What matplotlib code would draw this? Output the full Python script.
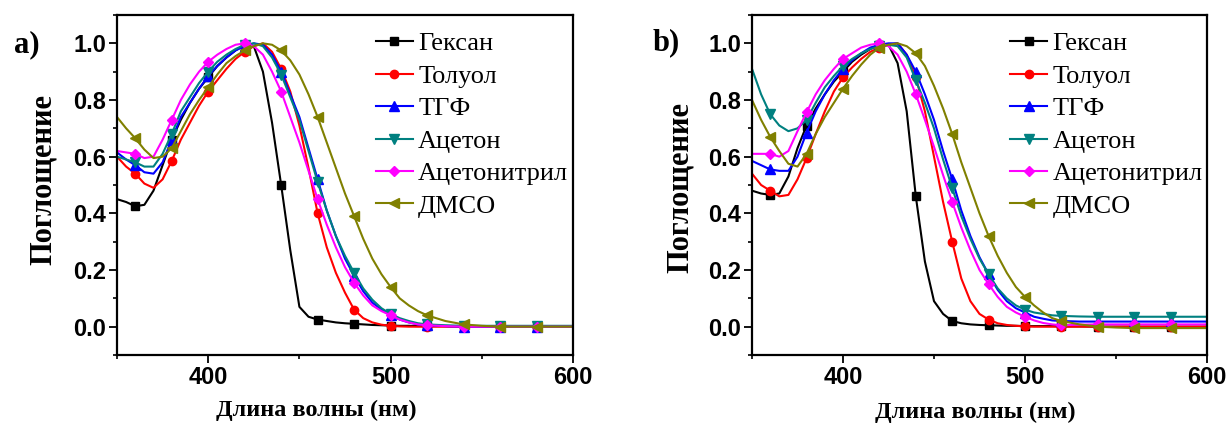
import matplotlib
matplotlib.use("Agg")
import matplotlib.pyplot as plt
from matplotlib.ticker import MultipleLocator

# Wavelength grid (nm)
wl = [350, 355, 360, 365, 370, 375, 380, 385, 390, 395, 400, 405, 410, 415,
      420, 425, 430, 435, 440, 445, 450, 455, 460, 465, 470, 475, 480, 485,
      490, 495, 500, 505, 510, 515, 520, 530, 540, 550, 560, 570, 580, 590, 600]

solvents = ["Гексан", "Толуол", "ТГФ", "Ацетон", "Ацетонитрил", "ДМСО"]

# Panel a) normalized absorption
a_hexane = [0.45, 0.44, 0.425, 0.43, 0.48, 0.57, 0.66, 0.73, 0.79, 0.84, 0.88, 0.92, 0.95, 0.975,
            0.995, 0.99, 0.90, 0.72, 0.50, 0.27, 0.07, 0.035, 0.025, 0.02, 0.015, 0.012, 0.01, 0.008,
            0.006, 0.005, 0.004, 0.003, 0.003, 0.002, 0.002, 0.002, 0.001, 0.001, 0.0, 0.0, 0.0, 0.0, 0.0]
a_toluene = [0.60, 0.565, 0.54, 0.505, 0.49, 0.52, 0.585, 0.66, 0.72, 0.78, 0.83, 0.87, 0.91, 0.945,
             0.97, 0.99, 1.0, 0.97, 0.91, 0.83, 0.71, 0.56, 0.40, 0.28, 0.19, 0.12, 0.06, 0.03,
             0.015, 0.007, 0.003, 0.001, 0.0, 0.0, 0.0, 0.0, 0.0, 0.0, 0.0, 0.0, 0.0, 0.0, 0.0]
a_thf = [0.615, 0.59, 0.57, 0.545, 0.54, 0.58, 0.66, 0.74, 0.79, 0.84, 0.885, 0.92, 0.95, 0.975,
         0.99, 1.0, 0.995, 0.96, 0.90, 0.82, 0.74, 0.63, 0.52, 0.41, 0.32, 0.24, 0.18, 0.125,
         0.085, 0.06, 0.04, 0.025, 0.015, 0.008, 0.005, 0.002, 0.0, 0.0, 0.0, 0.0, 0.0, 0.0, 0.0]
a_acetone = [0.60, 0.59, 0.58, 0.565, 0.565, 0.61, 0.68, 0.76, 0.81, 0.86, 0.90, 0.935, 0.96, 0.98,
             0.995, 1.0, 0.99, 0.95, 0.89, 0.81, 0.73, 0.62, 0.51, 0.41, 0.32, 0.25, 0.19, 0.135,
             0.095, 0.065, 0.045, 0.03, 0.02, 0.012, 0.008, 0.005, 0.003, 0.003, 0.003, 0.003, 0.003, 0.003, 0.003]
a_acetonitrile = [0.62, 0.615, 0.61, 0.595, 0.60, 0.66, 0.73, 0.80, 0.855, 0.90, 0.935, 0.96, 0.98, 0.995,
                  1.0, 0.99, 0.96, 0.90, 0.83, 0.74, 0.65, 0.55, 0.45, 0.36, 0.28, 0.21, 0.155, 0.11,
                  0.075, 0.055, 0.04, 0.025, 0.015, 0.008, 0.005, 0.002, 0.0, 0.0, 0.0, 0.0, 0.0, 0.0, 0.0]
a_dmso = [0.74, 0.70, 0.665, 0.625, 0.595, 0.60, 0.63, 0.69, 0.75, 0.80, 0.845, 0.89, 0.93, 0.955,
          0.975, 0.99, 1.0, 0.995, 0.975, 0.94, 0.89, 0.82, 0.74, 0.65, 0.56, 0.47, 0.39, 0.31,
          0.24, 0.185, 0.14, 0.10, 0.075, 0.055, 0.04, 0.02, 0.008, 0.003, 0.0, 0.0, 0.0, 0.0, 0.0]

# Panel b) normalized absorption
b_hexane = [0.48, 0.47, 0.465, 0.47, 0.53, 0.63, 0.71, 0.77, 0.82, 0.865, 0.90, 0.935, 0.96, 0.98,
            0.995, 0.995, 0.93, 0.76, 0.46, 0.23, 0.09, 0.045, 0.02, 0.012, 0.008, 0.006, 0.005, 0.004,
            0.003, 0.003, 0.002, 0.002, 0.002, 0.002, 0.001, 0.001, 0.0, 0.0, 0.0, 0.0, 0.0, 0.0, 0.0]
b_toluene = [0.54, 0.50, 0.48, 0.46, 0.465, 0.52, 0.595, 0.68, 0.76, 0.83, 0.88, 0.915, 0.945, 0.97,
             0.985, 0.995, 1.0, 0.96, 0.88, 0.76, 0.60, 0.44, 0.30, 0.17, 0.09, 0.045, 0.025, 0.012,
             0.006, 0.003, 0.001, 0.0, 0.0, 0.0, 0.0, 0.0, 0.0, 0.0, 0.0, 0.0, 0.0, 0.0, 0.0]
b_thf = [0.585, 0.57, 0.555, 0.55, 0.55, 0.60, 0.685, 0.76, 0.82, 0.87, 0.91, 0.94, 0.965, 0.985,
         0.995, 1.0, 1.0, 0.96, 0.90, 0.82, 0.73, 0.62, 0.52, 0.41, 0.32, 0.245, 0.185, 0.13,
         0.09, 0.065, 0.05, 0.035, 0.028, 0.022, 0.02, 0.018, 0.018, 0.018, 0.018, 0.018, 0.018, 0.018, 0.018]
b_acetone = [0.91, 0.82, 0.75, 0.71, 0.69, 0.70, 0.73, 0.79, 0.845, 0.885, 0.92, 0.945, 0.965, 0.98,
             0.99, 0.995, 0.99, 0.95, 0.87, 0.79, 0.70, 0.59, 0.49, 0.39, 0.31, 0.24, 0.185, 0.135,
             0.10, 0.075, 0.06, 0.05, 0.045, 0.04, 0.038, 0.036, 0.035, 0.035, 0.035, 0.035, 0.035, 0.035, 0.035]
b_acetonitrile = [0.61, 0.61, 0.61, 0.60, 0.62, 0.69, 0.757, 0.82, 0.87, 0.91, 0.945, 0.965, 0.985, 0.995,
                  1.0, 0.99, 0.96, 0.90, 0.82, 0.73, 0.635, 0.535, 0.44, 0.35, 0.27, 0.20, 0.15, 0.105,
                  0.07, 0.05, 0.035, 0.022, 0.013, 0.008, 0.005, 0.007, 0.008, 0.008, 0.008, 0.008, 0.008, 0.008, 0.008]
b_dmso = [0.80, 0.73, 0.67, 0.62, 0.575, 0.565, 0.61, 0.68, 0.74, 0.79, 0.84, 0.885, 0.925, 0.96,
          0.985, 0.995, 1.0, 0.99, 0.965, 0.92, 0.85, 0.77, 0.68, 0.58, 0.49, 0.40, 0.32, 0.25,
          0.19, 0.14, 0.105, 0.075, 0.05, 0.03, 0.02, 0.008, 0.0, -0.003, -0.005, -0.005, -0.005, -0.005, -0.005]

panel_a = [a_hexane, a_toluene, a_thf, a_acetone, a_acetonitrile, a_dmso]
panel_b = [b_hexane, b_toluene, b_thf, b_acetone, b_acetonitrile, b_dmso]

colors = ["#000000", "#ff0000", "#0000ff", "#008080", "#ff00ff", "#808000"]
markers = ["s", "o", "^", "v", "D", "<"]
msizes = [5.5, 6, 7, 7, 5.5, 7]

# markers every 20 nm
mark_idx = [i for i, w in enumerate(wl) if w % 20 == 0 and 360 <= w <= 580]

W, H = 1232, 432
fig = plt.figure(figsize=(W / 100, H / 100), dpi=100)

serif = ["Liberation Serif", "DejaVu Serif"]
sans = ["Liberation Sans", "DejaVu Sans"]


def px_axes(left, top, right, bottom):
    return fig.add_axes([left / W, 1 - bottom / H, (right - left) / W, (bottom - top) / H])


def draw(ax, series, ylab_xy, xlab_xy):
    for vals, name, c, m, ms in zip(series, solvents, colors, markers, msizes):
        ax.plot(wl, vals, color=c, lw=1.5, marker=m, ms=ms, markevery=mark_idx,
                mfc=c, mec=c, label=name)
    ax.set_xlim(350, 600)
    ax.set_ylim(-0.1, 1.1)
    ax.xaxis.set_minor_locator(MultipleLocator(50))
    ax.yaxis.set_minor_locator(MultipleLocator(0.1))
    ax.set_yticks([0.0, 0.2, 0.4, 0.6, 0.8, 1.0])
    ax.set_xticks([400, 500, 600])
    ax.tick_params(which="major", direction="out", length=5.5, width=1.3, pad=2.5)
    ax.tick_params(which="minor", direction="out", length=3, width=1.2)
    for sp in ax.spines.values():
        sp.set_linewidth(1.6)
    for lab in ax.get_xticklabels() + ax.get_yticklabels():
        lab.set_fontfamily(sans)
        lab.set_fontweight("bold")
        lab.set_fontsize(17)
    ax.set_ylabel("Поглощение", fontfamily=serif, fontweight="bold", fontsize=22)
    ax.yaxis.label.set_verticalalignment("center")
    ax.yaxis.set_label_coords(*ylab_xy)
    ax.set_xlabel("Длина волны (нм)", fontfamily=serif, fontweight="bold", fontsize=17.5)
    ax.xaxis.label.set_verticalalignment("center")
    ax.xaxis.set_label_coords(*xlab_xy)
    ax.legend(loc="upper left", bbox_to_anchor=(0.568, 0.950), frameon=False,
              prop={"family": serif, "size": 19}, handlelength=1.4, handletextpad=0.2,
              labelspacing=0.34, borderpad=0, borderaxespad=0)


ax_a = px_axes(117, 15, 573, 355)
draw(ax_a, panel_a, (-0.162, 0.515), (0.436, -0.162))
ax_b = px_axes(752, 15, 1207, 355)
draw(ax_b, panel_b, (-0.158, 0.494), (0.49, -0.17))

fig.text(27 / W, 1 - 45 / H, "a)", fontfamily=serif, fontweight="bold", fontsize=22,
         ha="center", va="center")
fig.text(666 / W, 1 - 43 / H, "b)", fontfamily=serif, fontweight="bold", fontsize=22,
         ha="center", va="center")

fig.savefig("out.png", dpi=100)
